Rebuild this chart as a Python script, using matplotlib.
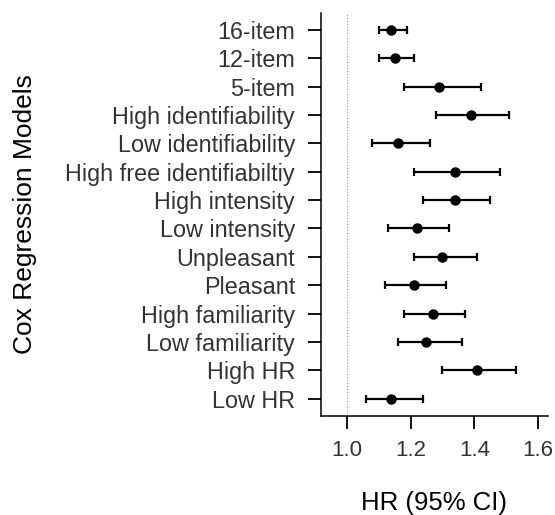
import matplotlib
matplotlib.use('Agg')
import matplotlib.pyplot as plt

plt.rcParams['font.family'] = ['Liberation Sans', 'DejaVu Sans']

# Cox regression models, top to bottom
models = ['16-item', '12-item', '5-item', 'High identifiability', 'Low identifiability',
          'High free identifiabiltiy', 'High intensity', 'Low intensity', 'Unpleasant',
          'Pleasant', 'High familiarity', 'Low familiarity', 'High HR', 'Low HR']
hr = [1.14, 1.15, 1.29, 1.39, 1.16, 1.34, 1.34, 1.22, 1.30, 1.21, 1.27, 1.25, 1.41, 1.14]
ci_low = [1.10, 1.10, 1.18, 1.28, 1.08, 1.21, 1.24, 1.13, 1.21, 1.12, 1.18, 1.16, 1.30, 1.06]
ci_high = [1.19, 1.21, 1.42, 1.51, 1.26, 1.48, 1.45, 1.32, 1.41, 1.31, 1.37, 1.36, 1.53, 1.24]
xticks = [1.0, 1.2, 1.4, 1.6]

fig = plt.figure(figsize=(5.55, 5.15), dpi=100)
ax = fig.add_axes([0.578, 0.193, 0.4096, 0.782])

ypos = list(range(len(models), 0, -1))
err = [[h - l for h, l in zip(hr, ci_low)], [u - h for h, u in zip(hr, ci_high)]]

# reference line at HR = 1
ax.axvline(1.0, color='#999999', linestyle=':', linewidth=0.8, zorder=1)

ax.errorbar(hr, ypos, xerr=err, fmt='o', color='black', markersize=6.5,
            elinewidth=1.6, capsize=3.2, capthick=1.6, zorder=3)

ax.set_xlim(0.918, 1.632)
ax.set_ylim(0.4, 14.6)
ax.set_xticks(xticks)
ax.set_xticklabels([f'{t:.1f}' for t in xticks])
ax.set_yticks(ypos)
ax.set_yticklabels(models)

for side in ['top', 'right']:
    ax.spines[side].set_visible(False)
for side in ['left', 'bottom']:
    ax.spines[side].set_linewidth(1.1)

ax.tick_params(axis='both', direction='out', length=9.5, width=1.3, colors='black')
ax.tick_params(axis='y', pad=9, labelsize=16.8, labelcolor='#333333')
ax.tick_params(axis='x', pad=8, labelsize=16, labelcolor='#333333')

ax.set_xlabel('HR (95% CI)', fontsize=18.5, color='black', va='center')
ax.set_ylabel('Cox Regression Models', fontsize=19, color='black')
ax.xaxis.set_label_coords(0.5, -0.217)
ax.yaxis.set_label_coords(-1.25, 0.5)

fig.savefig('out.png', dpi=100)
